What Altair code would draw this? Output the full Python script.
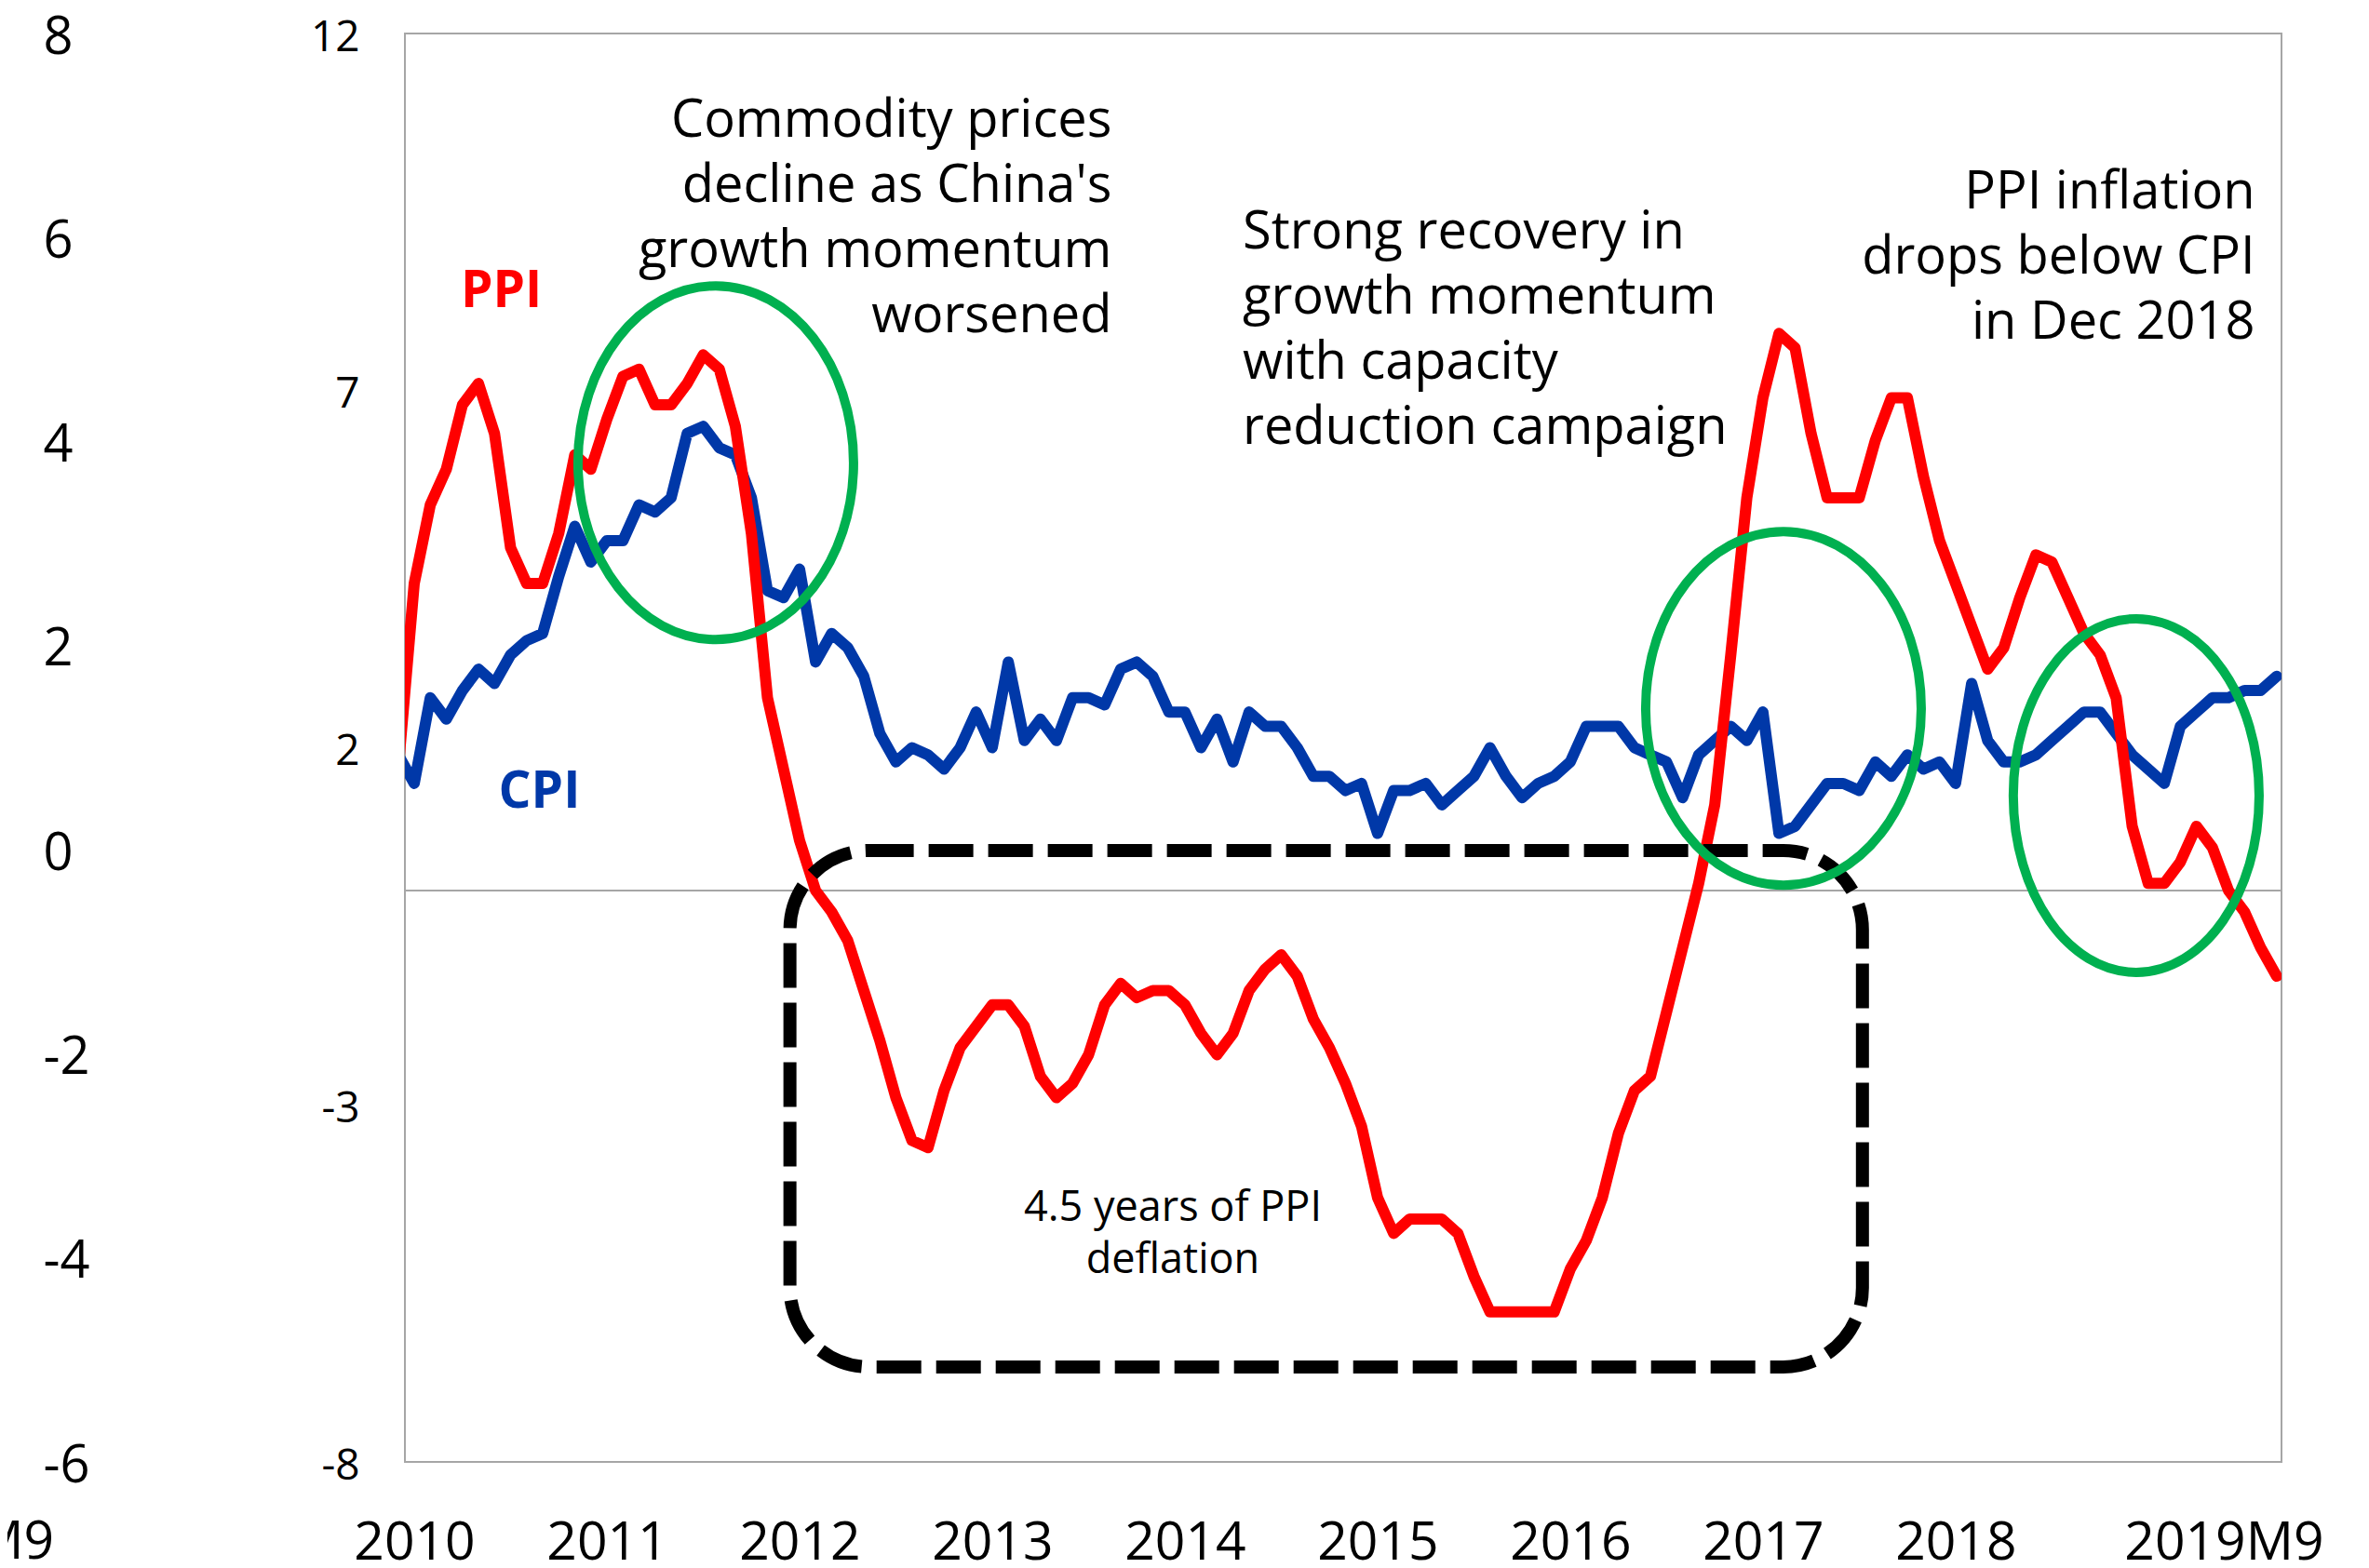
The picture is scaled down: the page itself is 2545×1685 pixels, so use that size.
import altair as alt
import pandas as pd

# ---------------- data (Dec 2009 .. Sep 2019, y/y %) ----------------
# month index: Jan 2010 = 0, first observation is Dec 2009 (index -1)
ppi = [1.7,
       4.3, 5.4, 5.9, 6.8, 7.1, 6.4, 4.8, 4.3, 4.3, 5.0, 6.1, 5.9,
       6.6, 7.2, 7.3, 6.8, 6.8, 7.1, 7.5, 7.3, 6.5, 5.0, 2.7, 1.7,
       0.7, 0.0, -0.3, -0.7, -1.4, -2.1, -2.9, -3.5, -3.6, -2.8, -2.2, -1.9,
       -1.6, -1.6, -1.9, -2.6, -2.9, -2.7, -2.3, -1.6, -1.3, -1.5, -1.4, -1.4,
       -1.6, -2.0, -2.3, -2.0, -1.4, -1.1, -0.9, -1.2, -1.8, -2.2, -2.7, -3.3,
       -4.3, -4.8, -4.6, -4.6, -4.6, -4.8, -5.4, -5.9, -5.9, -5.9, -5.9, -5.9,
       -5.3, -4.9, -4.3, -3.4, -2.8, -2.6, -1.7, -0.8, 0.1, 1.2, 3.3, 5.5,
       6.9, 7.8, 7.6, 6.4, 5.5, 5.5, 5.5, 6.3, 6.9, 6.9, 5.8, 4.9,
       4.3, 3.7, 3.1, 3.4, 4.1, 4.7, 4.6, 4.1, 3.6, 3.3, 2.7, 0.9,
       0.1, 0.1, 0.4, 0.9, 0.6, 0.0, -0.3, -0.8, -1.2]
cpi = [1.9,
       1.5, 2.7, 2.4, 2.8, 3.1, 2.9, 3.3, 3.5, 3.6, 4.4, 5.1, 4.6,
       4.9, 4.9, 5.4, 5.3, 5.5, 6.4, 6.5, 6.2, 6.1, 5.5, 4.2, 4.1,
       4.5, 3.2, 3.6, 3.4, 3.0, 2.2, 1.8, 2.0, 1.9, 1.7, 2.0, 2.5,
       2.0, 3.2, 2.1, 2.4, 2.1, 2.7, 2.7, 2.6, 3.1, 3.2, 3.0, 2.5,
       2.5, 2.0, 2.4, 1.8, 2.5, 2.3, 2.3, 2.0, 1.6, 1.6, 1.4, 1.5,
       0.8, 1.4, 1.4, 1.5, 1.2, 1.4, 1.6, 2.0, 1.6, 1.3, 1.5, 1.6,
       1.8, 2.3, 2.3, 2.3, 2.0, 1.9, 1.8, 1.3, 1.9, 2.1, 2.3, 2.1,
       2.5, 0.8, 0.9, 1.2, 1.5, 1.5, 1.4, 1.8, 1.6, 1.9, 1.7, 1.8,
       1.5, 2.9, 2.1, 1.8, 1.8, 1.9, 2.1, 2.3, 2.5, 2.5, 2.2, 1.9,
       1.7, 1.5, 2.3, 2.5, 2.7, 2.7, 2.8, 2.8, 3.0]
month_idx = list(range(-1, len(ppi) - 1))

x_tick_pos = [0, 12, 24, 36, 48, 60, 72, 84, 96, 112.7]
x_tick_labels = ["2010", "2011", "2012", "2013", "2014", "2015", "2016", "2017", "2018", "2019M9"]
inner_ticks = [-8, -3, 2, 7, 12]
outer_ticks = [-6, -4, -2, 0, 2, 4, 6, 8]

# annotations (x in month index, y = text baseline in inner-axis units)
ann1_lines = ["Commodity prices", "decline as China's", "growth momentum", "worsened"]
ann1_x, ann1_y = 43.45, [10.55, 9.64, 8.73, 7.82]
ann2_lines = ["Strong recovery in", "growth momentum", "with capacity", "reduction campaign"]
ann2_x, ann2_y = 51.6, [8.99, 8.08, 7.17, 6.25]
ann3_lines = ["PPI inflation", "drops below CPI", "in Dec 2018"]
ann3_x, ann3_y = 114.65, [9.55, 8.64, 7.73]
ann4_lines = ["4.5 years of PPI", "deflation"]
ann4_x, ann4_y = 47.25, [-4.63, -5.36]
ppi_label = ("PPI", 2.9, 8.17)
cpi_label = ("CPI", 5.25, 1.16)

ellipse_a = {"x": [18.78, 85.28], "y": [5.99, 2.55]}
ellipse_b = {"x": [107.25], "y": [1.33]}
box = {"x": [23.4], "x2": [90.2], "y": [0.56], "y2": [-6.67]}

RED = "#FF0000"
BLUE = "#0038A8"
GREEN = "#00B050"
GRAY = "#A6A6A6"
FONT = "Open Sans"

# ---------------- encodings ----------------
label_expr = "''"
for pos, lab in reversed(list(zip(x_tick_pos, x_tick_labels))):
    label_expr = f"datum.value == {pos} ? '{lab}' : ({label_expr})"

x_axis = alt.Axis(values=x_tick_pos, labelExpr=label_expr, domain=False, ticks=False, tickSize=0,
                  grid=False, labelFontSize=57, labelFont=FONT, labelColor="black",
                  labelPadding=59, labelFlush=False, labelOverlap=False, labelLimit=600)
y_axis = alt.Axis(orient="left", values=inner_ticks, labelExpr="'' + datum.value", domain=False,
                  ticks=False, tickSize=0, grid=False, labelFontSize=46, labelFont=FONT,
                  labelColor="black", labelPadding=49, labelOverlap=False, labelOffset=4)
x_scale = alt.Scale(domain=[-0.58, 116.3], nice=False, zero=False)
y_scale = alt.Scale(domain=[-8, 12], nice=False, zero=False)


def X(f):
    return alt.X(f, type="quantitative", scale=x_scale, axis=x_axis, title=None)


def Y(f):
    return alt.Y(f, type="quantitative", scale=y_scale, axis=y_axis, title=None)


line_df = pd.DataFrame({"x": month_idx, "ppi": ppi, "cpi": cpi})

zero = alt.Chart(pd.DataFrame({"x": [0], "y": [0]})).mark_rule(color=GRAY, strokeWidth=2).encode(y=Y("y"))
cpi_line = alt.Chart(line_df).mark_line(color=BLUE, strokeWidth=12, clip=True,
                                        strokeJoin="round", strokeCap="round").encode(x=X("x"), y=Y("cpi"))
ppi_line = alt.Chart(line_df).mark_line(color=RED, strokeWidth=12, clip=True,
                                        strokeJoin="round", strokeCap="round").encode(x=X("x"), y=Y("ppi"))


def ellipse_path(rx):
    return f"M {-rx} 0 A {rx} 1 0 1 0 {rx} 0 A {rx} 1 0 1 0 {-rx} 0 Z"


ell1 = alt.Chart(pd.DataFrame(ellipse_a)).mark_point(
    shape=ellipse_path(0.779), size=144400, filled=False, color=GREEN, strokeWidth=10, opacity=1
).encode(x=X("x"), y=Y("y"))
ell2 = alt.Chart(pd.DataFrame(ellipse_b)).mark_point(
    shape=ellipse_path(0.695), size=144400, filled=False, color=GREEN, strokeWidth=10, opacity=1
).encode(x=X("x"), y=Y("y"))

rect = alt.Chart(pd.DataFrame(box)).mark_rect(
    filled=False, color="black", strokeWidth=14, strokeDash=[48, 16], cornerRadius=85
).encode(x=X("x"), x2="x2", y=Y("y"), y2="y2")


def text_layer(lines, x, ys, align, size, color="black", weight="normal"):
    df = pd.DataFrame({"x": [x] * len(lines), "y": ys, "t": lines})
    return alt.Chart(df).mark_text(align=align, baseline="alphabetic", fontSize=size, font=FONT,
                                   fontWeight=weight, color=color).encode(x=X("x"), y=Y("y"), text="t:N")


t1 = text_layer(ann1_lines, ann1_x, ann1_y, "right", 56)
t2 = text_layer(ann2_lines, ann2_x, ann2_y, "left", 56)
t3 = text_layer(ann3_lines, ann3_x, ann3_y, "right", 56)
t4 = text_layer(ann4_lines, ann4_x, ann4_y, "center", 45)
t5 = text_layer([ppi_label[0]], ppi_label[1], [ppi_label[2]], "left", 55, RED, "bold")
t6 = text_layer([cpi_label[0]], cpi_label[1], [cpi_label[2]], "left", 55, BLUE, "bold")

# clipped label of a neighbouring chart at the far left edge
ghost = alt.Chart(pd.DataFrame({"t": ["2019M9"]})).mark_text(
    align="right", baseline="alphabetic", fontSize=57, font=FONT, color="black"
).encode(x=alt.value(-377), y=alt.value(1639), text="t:N")

inner = alt.layer(zero, cpi_line, ppi_line, rect, ell1, ell2, t1, t2, t3, t4, t5, t6, ghost)

outer_axis_layer = alt.Chart(pd.DataFrame({"v": outer_ticks})).mark_point(opacity=0).encode(
    y=alt.Y("v", type="quantitative", scale=alt.Scale(domain=[-6, 8], nice=False, zero=False),
            axis=alt.Axis(orient="left", values=outer_ticks, labelExpr="'' + datum.value",
                          domain=False, ticks=False, tickSize=0, grid=False, labelFontSize=56,
                          labelFont=FONT, labelColor="black", labelAlign="left",
                          labelPadding=389, labelOverlap=False, labelOffset=4),
            title=None)
)

chart = alt.layer(inner, outer_axis_layer).resolve_scale(y="independent").properties(
    width=2016, height=1535,
    autosize=alt.AutoSizeParams(type="none"),
    padding={"left": 427, "top": 28, "right": 86, "bottom": 106},
).configure(font=FONT).configure_view(stroke=GRAY, strokeWidth=2)

chart.save("out.html", embed_options={"renderer": "svg", "actions": False})
